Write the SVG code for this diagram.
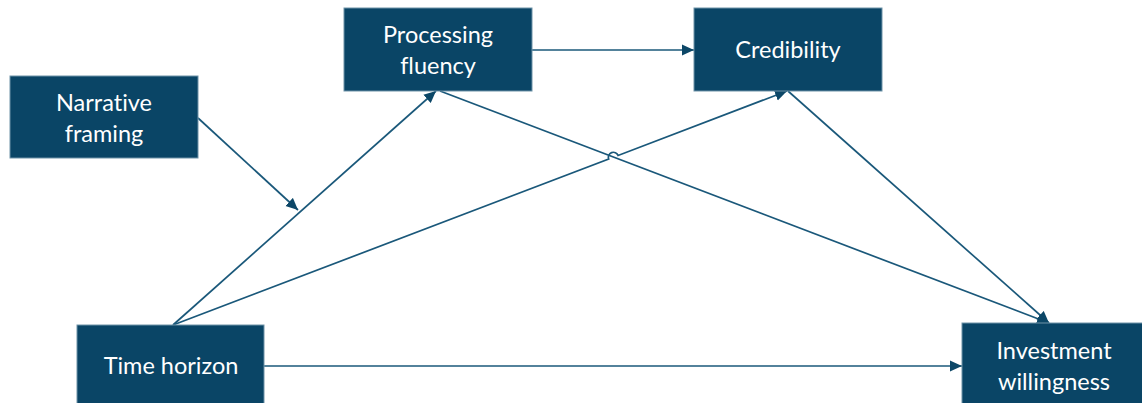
<svg xmlns="http://www.w3.org/2000/svg" width="1142" height="403" viewBox="0 0 1142 403">
  <defs>
    <marker id="arrow" viewBox="0 0 12 12" refX="12" refY="6" markerWidth="12" markerHeight="12" markerUnits="userSpaceOnUse" orient="auto">
      <path d="M0,0.5 L12,6 L0,11.5 z" fill="#0c4767"/>
    </marker>
    <style>
      .box { fill: #0a4566; stroke: #6f93a8; stroke-width: 1; }
      .label { fill: #ffffff; font-family: Lato, "Open Sans", "Liberation Sans", sans-serif; font-size: 23.5px; text-anchor: middle; dominant-baseline: central; font-variant-ligatures: none; font-feature-settings: "liga" 0, "dlig" 0; }
      .edge { fill: none; stroke: #1a587a; stroke-width: 1.7; }
    </style>
  </defs>
  <rect width="1142" height="403" fill="#ffffff"/>

  <g id="connectors">
    <!-- Narrative framing moderates the path into Processing fluency -->
    <line class="edge" x1="198" y1="118" x2="298" y2="210" marker-end="url(#arrow)"/>
    <!-- Time horizon to Processing fluency -->
    <line class="edge" x1="173" y1="325" x2="436" y2="91" marker-end="url(#arrow)"/>
    <!-- Time horizon to Credibility, with a hop over the crossing line -->
    <path class="edge" d="M173,325 L608.7,159.1 A5,5 0 0 1 618.1,155.5 L787,91" marker-end="url(#arrow)"/>
    <!-- Processing fluency to Investment willingness -->
    <line class="edge" x1="440" y1="91" x2="1049" y2="323" marker-end="url(#arrow)"/>
    <!-- Credibility to Investment willingness -->
    <line class="edge" x1="788" y1="91" x2="1049" y2="323" marker-end="url(#arrow)"/>
    <!-- Processing fluency to Credibility -->
    <line class="edge" x1="532" y1="50" x2="694" y2="50" marker-end="url(#arrow)"/>
    <!-- Time horizon to Investment willingness -->
    <line class="edge" x1="264" y1="366" x2="962" y2="366" marker-end="url(#arrow)"/>
  </g>

  <g id="narrative-framing">
    <rect class="box" x="10" y="76" width="188" height="82"/>
    <text class="label" x="104" y="102">Narrative</text>
    <text class="label" x="104" y="133">framing</text>
  </g>

  <g id="processing-fluency">
    <rect class="box" x="344" y="8" width="188" height="83"/>
    <text class="label" x="438" y="34">Processing</text>
    <text class="label" x="438" y="65">fluency</text>
  </g>

  <g id="credibility">
    <rect class="box" x="694" y="8" width="188" height="83"/>
    <text class="label" x="788" y="49">Credibility</text>
  </g>

  <g id="time-horizon">
    <rect class="box" x="77" y="325" width="187" height="90"/>
    <text class="label" x="171" y="365">Time horizon</text>
  </g>

  <g id="investment-willingness">
    <rect class="box" x="962" y="323" width="190" height="92"/>
    <text class="label" x="1054" y="350">Investment</text>
    <text class="label" x="1054" y="381">willingness</text>
  </g>
</svg>
